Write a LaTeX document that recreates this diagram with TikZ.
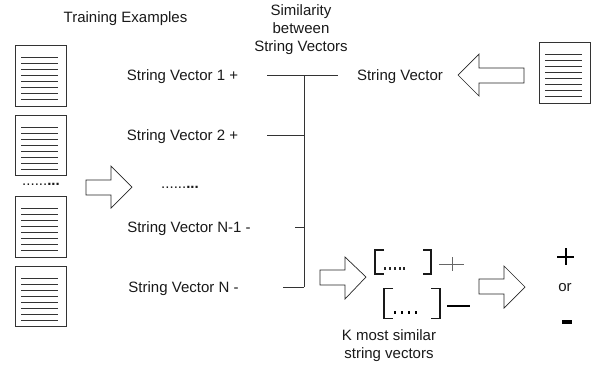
\documentclass[tikz,border=0pt]{standalone}
\usepackage{fontspec}
\setmainfont{Liberation Sans}
\tikzset{
  lbl/.style={inner sep=0pt,align=center,font=\fontsize{15}{18}\selectfont,text=black!90},
  docbox/.style={draw=black!80,line width=0.9pt},
  docline/.style={draw=black!80,line width=0.7pt},
  blockarrow/.style={draw=black!85,line width=0.7pt,fill=white},
  wire/.style={draw=black!80,line width=0.9pt},
  brk/.style={draw=black!90,line width=1.7pt},
}
\newcommand{\docicon}[3]{%
  \draw[docbox] (#1,#2) rectangle (#1+51,#2+#3);
  \foreach \k in {0,...,7}{\draw[docline] (#1+6,#2+12+6*\k) -- (#1+43,#2+12+6*\k);}
}
\begin{document}
\begin{tikzpicture}[x=1pt,y=-1pt]
\useasboundingbox (0,0) rectangle (595,368);
\docicon{15}{45}{61}
\docicon{15}{115}{60}
\docicon{15}{196}{61}
\docicon{15}{266}{60}
\docicon{539}{42}{61}
\node[lbl] (train) at (125.5,19) {Training Examples};
\node[lbl] (sim) at (301,30) {Similarity\\between\\String Vectors};
\node[lbl] (sv1) at (182.5,76.5) {String Vector 1 +};
\node[lbl] (sv2) at (182.5,136.5) {String Vector 2 +};
\node[lbl] (svn1) at (189,229) {String Vector N-1 -};
\node[lbl] (svn) at (183.5,288.5) {String Vector N -};
\node[lbl] (sv) at (400,76.5) {String Vector};
\node[lbl] (dots1) at (41,184) {......\textbf{...}};
\node[lbl] (dots2) at (180,187) {......\textbf{...}};
\node[lbl] (k) at (389,346) {K most similar\\string vectors};
\node[lbl] (or) at (565,288) {or};
% connectors
\coordinate (t1) at (267,75); \coordinate (t2) at (338,75);
\coordinate (v1) at (304,75); \coordinate (v2) at (304,287);
\coordinate (b2a) at (267,135); \coordinate (b2b) at (304,135);
\coordinate (b3a) at (295,227); \coordinate (b3b) at (304,227);
\coordinate (b4a) at (283,287);
\draw[wire] (t1) -- (t2);
\draw[wire] (v1) -- (v2);
\draw[wire] (b2a) -- (b2b);
\draw[wire] (b3a) -- (b3b);
\draw[wire] (b4a) -- (v2);
% block arrows
\draw[blockarrow] (86,180) -- (111,180) -- (111,166) -- (132,187) -- (111,208) -- (111,195) -- (86,195) -- cycle;
\draw[blockarrow] (524,68) -- (479,68) -- (479,54) -- (458,75) -- (479,96) -- (479,83) -- (524,83) -- cycle;
\draw[blockarrow] (320,270) -- (345,270) -- (345,257) -- (366,277) -- (345,299) -- (345,285) -- (320,285) -- cycle;
\draw[blockarrow] (479,279) -- (504,279) -- (504,266) -- (525,287) -- (504,308) -- (504,294) -- (479,294) -- cycle;
% brackets
\draw[brk] (384,250) -- (375,250) -- (375,274) -- (384,274);
\draw[brk] (423,250) -- (431,250) -- (431,274) -- (423,274);
\draw[brk] (393,288.5) -- (384,288.5) -- (384,318.5) -- (393,318.5);
\draw[brk] (431,288.5) -- (440,288.5) -- (440,318.5) -- (431,318.5);
\foreach \x in {385,390,395,400,404}{\fill[black!85] (\x-1.2,267) rectangle (\x+1.2,269.5);}
\foreach \x in {395,402,409,416}{\fill[black] (\x-1.3,310.5) rectangle (\x+1.3,313.5);}
% signs
\draw[draw=black!60,line width=1pt] (439,264) -- (464,264);
\draw[draw=black!60,line width=1pt] (452,257) -- (452,271);
\draw[draw=black,line width=2.4pt] (447,306) -- (470,306);
\draw[draw=black,line width=2.8pt] (557,257) -- (574,257);
\draw[draw=black,line width=2.8pt] (566,248) -- (566,265);
\draw[draw=black,line width=3.6pt] (562,322) -- (572,322);
\end{tikzpicture}
\end{document}
